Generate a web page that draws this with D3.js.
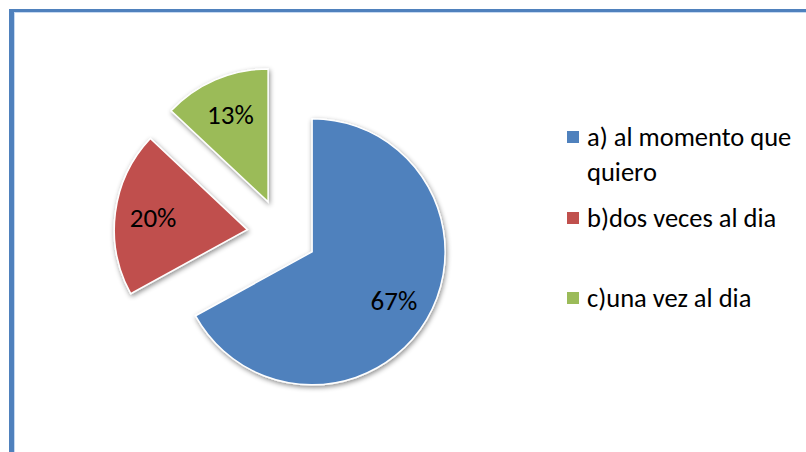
<!DOCTYPE html>
<meta charset="utf-8">
<style>
body { margin: 0; background: #fff; }
svg { display: block; }
.slice { stroke: #fff; stroke-width: 1.5px; }
.label, .legend text {
  font-family: Carlito, "Liberation Sans", sans-serif;
  fill: #000;
}
</style>
<svg width="806" height="452"></svg>
<script src="https://d3js.org/d3.v7.min.js"></script>
<script>

var categories = ["a) al momento que quiero", "b)dos veces al dia", "c)una vez al dia"],
    values = [67, 20, 13],
    colors = ["#4F81BD", "#C0504D", "#9BBB59"];

var svg = d3.select("svg"),
    width = +svg.attr("width"),
    height = +svg.attr("height"),
    radius = 133,
    explode = 35,
    cx = 282, cy = 234;

// frame (left and top edges only show in the crop)
svg.append("rect").attr("x", 9).attr("y", 9).attr("width", 5).attr("height", height)
    .attr("fill", "#4F81BD");
svg.append("rect").attr("x", 9).attr("y", 9).attr("width", width).attr("height", 3)
    .attr("fill", "#4F81BD");
svg.append("rect").attr("x", 14).attr("y", 12).attr("width", 1).attr("height", height)
    .attr("fill", "#C6D9F1");
svg.append("rect").attr("x", 14).attr("y", 12).attr("width", width).attr("height", 1)
    .attr("fill", "#C6D9F1");

var defs = svg.append("defs");
defs.append("filter").attr("id", "shadow")
    .attr("x", "-20%").attr("y", "-20%").attr("width", "140%").attr("height", "140%")
  .append("feDropShadow")
    .attr("dx", 1).attr("dy", 2).attr("stdDeviation", 2.5)
    .attr("flood-color", "#000").attr("flood-opacity", 0.45);

var pie = d3.pie().sort(null).value(function(d) { return d; });
var arc = d3.arc().innerRadius(0).outerRadius(radius);
var labelArc = d3.arc().innerRadius(95).outerRadius(95);

var total = d3.sum(values);
var arcs = pie(values);

var g = svg.append("g").attr("transform", "translate(" + cx + "," + cy + ")");

var slice = g.selectAll("g.slice-g")
  .data(arcs)
  .enter().append("g")
    .attr("transform", function(d) {
      var a = (d.startAngle + d.endAngle) / 2;
      return "translate(" + (Math.sin(a) * explode) + "," + (-Math.cos(a) * explode) + ")";
    });

slice.append("path")
    .attr("class", "slice")
    .attr("d", arc)
    .attr("fill", function(d, i) { return colors[i]; })
    .attr("filter", "url(#shadow)");

slice.append("text")
    .attr("class", "label")
    .attr("transform", function(d) { return "translate(" + labelArc.centroid(d) + ")"; })
    .attr("text-anchor", "middle")
    .attr("dominant-baseline", "central")
    .style("font-size", "27px")
    .text(function(d) { return Math.round(d.value / total * 100) + "%"; });

// legend
var legendX = 567,
    lineH = 35,
    legendY = [137, 218, 298],
    maxW = 215;

var legend = svg.append("g").attr("class", "legend");

categories.forEach(function(name, i) {
  var item = legend.append("g").attr("transform", "translate(" + legendX + "," + legendY[i] + ")");
  item.append("rect")
      .attr("x", 0).attr("y", -6).attr("width", 12).attr("height", 12)
      .attr("fill", colors[i]);
  var text = item.append("text")
      .attr("x", 20)
      .attr("dominant-baseline", "central")
      .style("font-size", "26.5px");
  // wrap words to fit
  var words = name.split(" "), line = [], n = 0;
  var tspan = text.append("tspan").attr("x", 20).attr("y", 0);
  words.forEach(function(w) {
    line.push(w);
    tspan.text(line.join(" "));
    if (tspan.node().getComputedTextLength() > maxW && line.length > 1) {
      line.pop();
      tspan.text(line.join(" "));
      line = [w];
      n++;
      tspan = text.append("tspan").attr("x", 20).attr("y", n * lineH).text(w);
    }
  });
});

</script>
